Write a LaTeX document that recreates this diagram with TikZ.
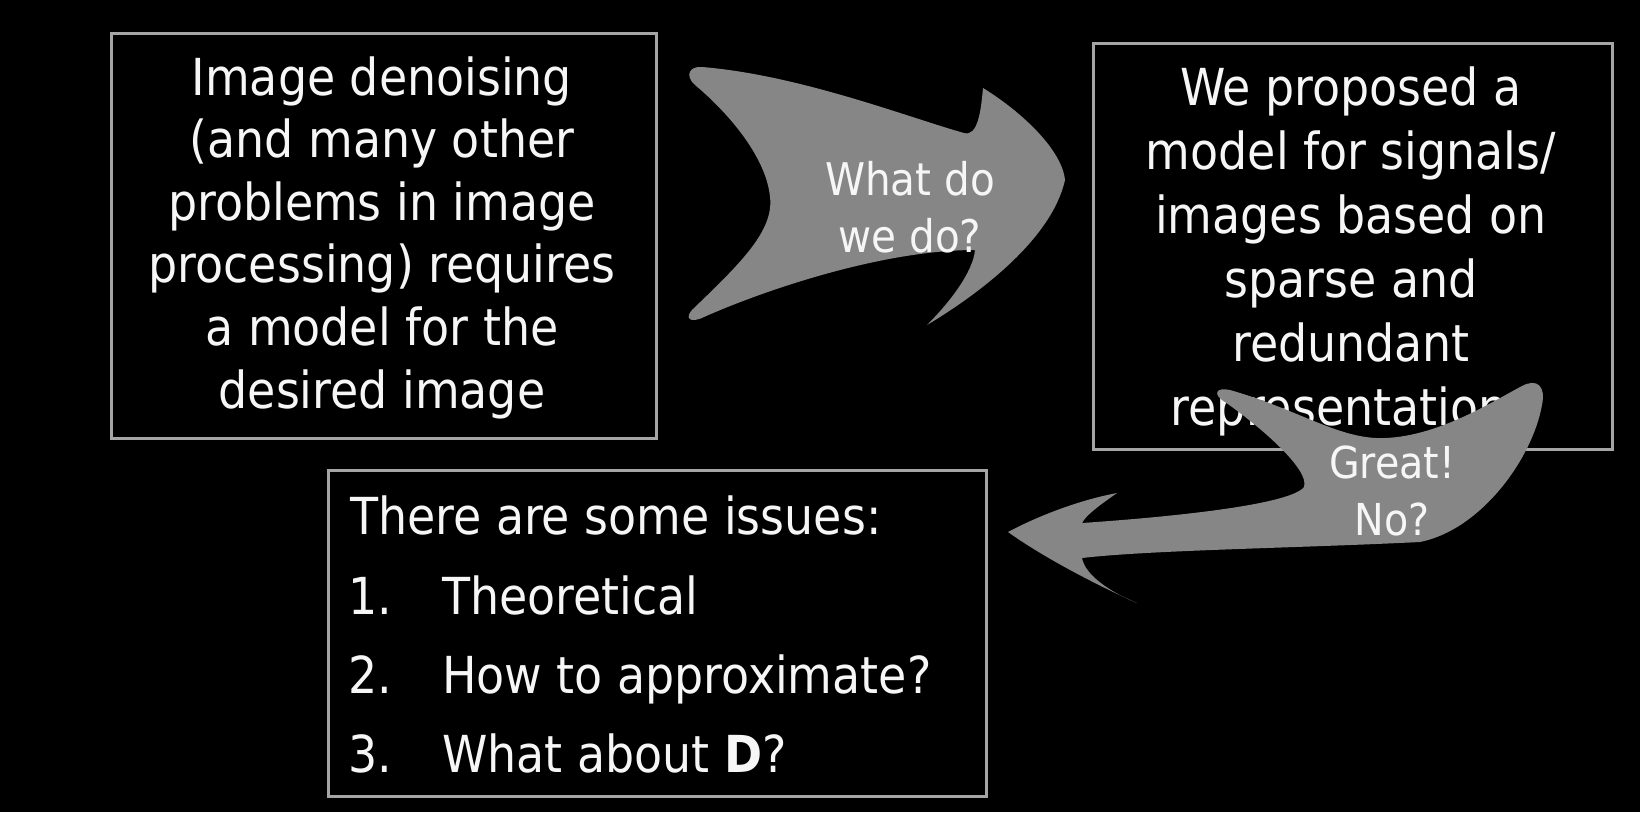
\documentclass[tikz,border=0pt]{standalone}
\usepackage{fontspec}
\setmainfont{DejaVu Sans Condensed}
\definecolor{bordergray}{RGB}{165,165,165}
\definecolor{arrowgray}{RGB}{134,134,134}
\definecolor{txt}{RGB}{246,246,246}
\begin{document}
\begin{tikzpicture}[x=1pt,y=-1pt,
  box/.style={draw=bordergray,line width=3pt,inner sep=0pt,anchor=north west},
  bigtext/.style={text=txt,inner sep=0pt,font=\fontsize{51}{62.6}\selectfont},
  arrowtext/.style={text=txt,inner sep=0pt,align=center,anchor=base},
  shapearrow/.style={fill=arrowgray}]
\fill[black] (0,0) rectangle (1640,812);
\useasboundingbox (0,0) rectangle (1640,812);

% box 1 (multi-line text: base anchor = last line)
\node[box,minimum width=545pt,minimum height=405pt] (b1) at (110,32) {};
\node[bigtext,align=center,anchor=base] (t1) at (382,408)
  {Image denoising\\(and many other\\problems in image\\processing) requires\\a model for the\\desired image};

% box 2
\node[box,minimum width=519pt,minimum height=406pt] (b2) at (1092,42) {};
\node[bigtext,align=center,anchor=base,font=\fontsize{51}{64}\selectfont] (t2) at (1351,425)
  {We proposed a\\model for signals/\\images based on\\sparse and\\redundant\\representations};

% arrow 1
\fill[shapearrow] (702,67) .. controls (800,75) and (910,118) .. (964,133)
  .. controls (978,137) and (981,110) .. (983,88)
  .. controls (1022,112) and (1062,150) .. (1065,180)
  .. controls (1052,238) and (982,292) .. (927,325)
  .. controls (950,302) and (973,272) .. (975,250)
  .. controls (880,250) and (760,292) .. (704,317)
  .. controls (690,324) and (683,318) .. (694,308)
  .. controls (742,262) and (774,230) .. (770,197)
  .. controls (766,155) and (725,110) .. (695,85)
  .. controls (684,75) and (690,66) .. (702,67) -- cycle;
\node[arrowtext,font=\fontsize{45}{57}\selectfont] (a1) at (910,252) {What do\\we do?};

% box 3
\node[box,minimum width=658pt,minimum height=326pt] (b3) at (327,469) {};
\node[bigtext,anchor=base west] (h3) at (350,534) {There are some issues:};
\node[bigtext,anchor=base west] (n1) at (348,614) {1.};
\node[bigtext,anchor=base west] (i1) at (442,614) {Theoretical};
\node[bigtext,anchor=base west] (n2) at (348,693) {2.};
\node[bigtext,anchor=base west] (i2) at (442,693) {How to approximate?};
\node[bigtext,anchor=base west] (n3) at (348,772) {3.};
\node[bigtext,anchor=base west] (i3) at (442,772) {What about \textbf{D}?};

% arrow 2
\fill[shapearrow] (1230,390) .. controls (1300,410) and (1340,440) .. (1385,438)
  .. controls (1440,436) and (1495,400) .. (1522,386)
  .. controls (1537,378) and (1546,386) .. (1542,405)
  .. controls (1532,460) and (1480,530) .. (1420,542)
  .. controls (1300,548) and (1150,550) .. (1082,558)
  .. controls (1085,575) and (1110,592) .. (1137,603)
  .. controls (1090,582) and (1040,555) .. (1008,532)
  .. controls (1040,515) and (1080,500) .. (1117,493)
  .. controls (1100,505) and (1086,515) .. (1082,523)
  .. controls (1170,517) and (1290,505) .. (1304,487)
  .. controls (1310,470) and (1262,428) .. (1225,402)
  .. controls (1212,394) and (1216,387) .. (1230,390) -- cycle;
\node[arrowtext,font=\fontsize{44}{57}\selectfont] (a2) at (1392,535) {Great!\\No?};
\end{tikzpicture}
\end{document}
